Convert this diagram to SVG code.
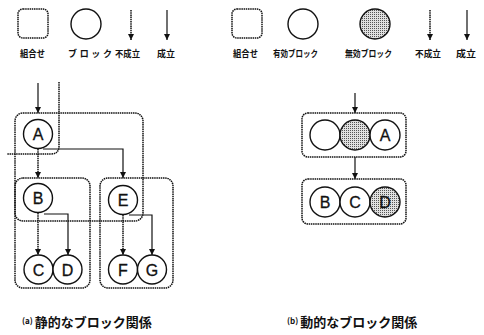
<svg xmlns="http://www.w3.org/2000/svg" width="484" height="335" viewBox="0 0 484 335">
<defs>
<pattern id="dots" width="2" height="2" patternUnits="userSpaceOnUse">
<rect width="2" height="2" fill="#e0e0e0"/>
<rect width="1" height="1" fill="#555"/>
</pattern>
<marker id="ah" viewBox="0 0 6 8" refX="6" refY="4" markerWidth="6" markerHeight="8" markerUnits="userSpaceOnUse" orient="auto">
<path d="M0,1 L6,4 L0,7 Z" fill="#111"/>
</marker>
</defs>
<style>
.dot{fill:none;stroke:#111;stroke-width:1.5;stroke-dasharray:1.5 0.7}
.solid{fill:none;stroke:#111;stroke-width:1.2}
.blk{fill:#fff;stroke:#111;stroke-width:1.4}
.inv{fill:url(#dots);stroke:#111;stroke-width:1.4}
.lbl{font-family:"Liberation Sans",Arial,sans-serif;font-size:16px;fill:#111;stroke:#111;stroke-width:0.3;text-anchor:middle}
.jp{font-family:"Noto Sans CJK JP","Noto Sans CJK SC",sans-serif;font-weight:bold;fill:#111}
.leg{font-size:9px}
.cap{font-size:13px}
</style>

<g id="legend-a">
<rect class="dot" x="18" y="9" width="30" height="29" rx="5"/>
<circle class="blk" cx="86" cy="24" r="15"/>
<path class="dot" d="M131,10 V40" marker-end="url(#ah)"/>
<path class="solid" d="M167,10 V40" marker-end="url(#ah)"/>
<text class="jp leg" x="20" y="57" textLength="25" lengthAdjust="spacingAndGlyphs">組合せ</text>
<text class="jp leg" x="68" y="57" textLength="44" lengthAdjust="spacing">ブロック</text>
<text class="jp leg" x="115" y="57" textLength="25" lengthAdjust="spacingAndGlyphs">不成立</text>
<text class="jp leg" x="157" y="57" textLength="18" lengthAdjust="spacingAndGlyphs">成立</text>
</g>

<g id="legend-b">
<rect class="dot" x="232" y="9" width="30" height="29" rx="5"/>
<circle class="blk" cx="303" cy="24" r="15"/>
<circle class="inv" cx="375" cy="24" r="15"/>
<path class="dot" d="M430,10 V40" marker-end="url(#ah)"/>
<path class="solid" d="M467,10 V40" marker-end="url(#ah)"/>
<text class="jp leg" x="233" y="57" textLength="25" lengthAdjust="spacingAndGlyphs">組合せ</text>
<text class="jp leg" x="273" y="57" textLength="45" lengthAdjust="spacingAndGlyphs">有効ブロック</text>
<text class="jp leg" x="345" y="57" textLength="47" lengthAdjust="spacingAndGlyphs">無効ブロック</text>
<text class="jp leg" x="415" y="57" textLength="26" lengthAdjust="spacingAndGlyphs">不成立</text>
<text class="jp leg" x="456" y="57" textLength="20" lengthAdjust="spacingAndGlyphs">成立</text>
</g>

<g id="combos-a">
<path id="ctx" class="dot" d="M59,82 V146 Q59,154 51,154 H7"/>
<rect id="combo-ABE" class="dot" x="15" y="113" width="128" height="108" rx="8"/>
<rect id="combo-BCD" class="dot" x="15" y="178" width="75" height="110" rx="8"/>
<rect id="combo-EFG" class="dot" x="100" y="178" width="73" height="110" rx="8"/>
</g>

<g id="connectors">
<path class="solid" d="M38,83 V113" marker-end="url(#ah)"/>
<path class="dot" d="M38,149 V178" marker-end="url(#ah)"/>
<path class="solid" d="M43,149 H123 V178" marker-end="url(#ah)"/>
<path class="dot" d="M38,213 V255" marker-end="url(#ah)"/>
<path class="solid" d="M44,214 H68 V255" marker-end="url(#ah)"/>
<path class="dot" d="M123,215 V255" marker-end="url(#ah)"/>
<path class="solid" d="M129,215 H152 V255" marker-end="url(#ah)"/>
<path class="solid" d="M355,93 V113" marker-end="url(#ah)"/>
<path class="solid" d="M355,157 V179" marker-end="url(#ah)"/>
</g>

<g id="node-A"><circle class="blk" cx="38" cy="134" r="14.5"/><text class="lbl" x="38" y="140">A</text></g>
<g id="node-B"><circle class="blk" cx="38" cy="198" r="14.5"/><text class="lbl" x="38" y="204">B</text></g>
<g id="node-E"><circle class="blk" cx="123" cy="200" r="14.5"/><text class="lbl" x="123" y="206">E</text></g>
<g id="node-C"><circle class="blk" cx="38.5" cy="269.5" r="14.5"/><text class="lbl" x="38.5" y="275.5">C</text></g>
<g id="node-D"><circle class="blk" cx="67.5" cy="269.5" r="14.5"/><text class="lbl" x="67.5" y="275.5">D</text></g>
<g id="node-F"><circle class="blk" cx="123" cy="269.5" r="14.5"/><text class="lbl" x="123" y="275.5">F</text></g>
<g id="node-G"><circle class="blk" cx="152" cy="269.5" r="14.5"/><text class="lbl" x="152" y="275.5">G</text></g>

<g id="combo-top">
<rect class="dot" x="302" y="113" width="104" height="44" rx="6"/>
<circle class="blk" cx="325" cy="135" r="15"/>
<circle class="inv" cx="355" cy="135" r="15"/>
<circle class="blk" cx="385" cy="135" r="15"/>
<text class="lbl" x="385" y="141">A</text>
</g>
<g id="combo-bottom">
<rect class="dot" x="302" y="179" width="104" height="45" rx="6"/>
<circle class="blk" cx="325" cy="202" r="15"/>
<text class="lbl" x="325" y="208">B</text>
<circle class="blk" cx="355" cy="202" r="15"/>
<text class="lbl" x="355" y="208">C</text>
<circle class="inv" cx="385" cy="202" r="15"/>
<text class="lbl" x="385" y="208">D</text>
</g>

<g id="captions">
<text class="jp" x="22" y="327"><tspan font-size="8" dy="-3">(a)</tspan><tspan class="cap" dy="3" dx="2">静的なブロック関係</tspan></text>
<text class="jp" x="287" y="327"><tspan font-size="8" dy="-3">(b)</tspan><tspan class="cap" dy="3" dx="2">動的なブロック関係</tspan></text>
</g>
</svg>
